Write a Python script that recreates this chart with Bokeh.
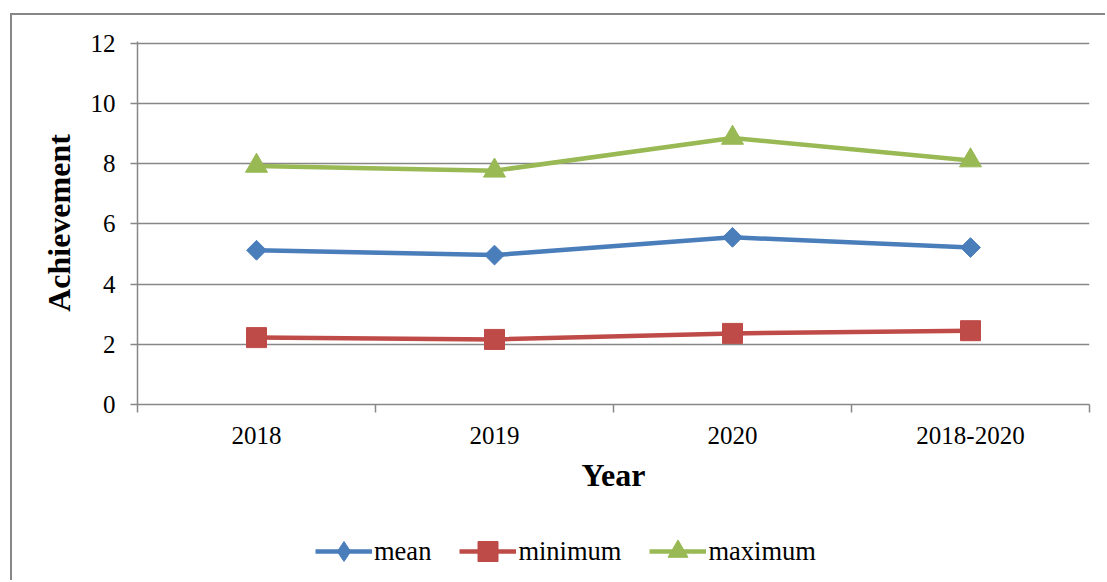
from bokeh.plotting import figure
from bokeh.models import (FixedTicker, Legend, LegendItem, Range1d, ColumnDataSource)
from bokeh.layouts import column
from bokeh.embed import file_html
from bokeh.resources import INLINE
import math

years = ["2018", "2019", "2020", "2018-2020"]
mean_vals = [5.12, 4.96, 5.55, 5.21]
min_vals = [2.22, 2.16, 2.36, 2.45]
max_vals = [7.92, 7.76, 8.85, 8.10]
y_ticks = [0, 2, 4, 6, 8, 10, 12]

FONT = "Liberation Serif"
GRAY = "#878787"
BORDER = "2px solid #878787"

n = len(years)
xpos = [i + 0.5 for i in range(n)]
bounds = list(range(n + 1))

p = figure(width=1095, height=509, output_backend="svg", toolbar_location=None,
           x_range=Range1d(0, n), y_range=Range1d(0, 12.05),
           min_border_left=125, min_border_right=18, min_border_top=26, min_border_bottom=120)
p.margin = (13, 0, 0, 10)
p.styles = {"border-left": BORDER, "border-top": BORDER}
p.outline_line_color = None
p.background_fill_color = "white"
p.border_fill_color = "white"

# y axis
yax = p.yaxis[0]
yax.ticker = FixedTicker(ticks=y_ticks, minor_ticks=[])
yax.axis_line_color = GRAY
yax.axis_line_width = 1.5
yax.major_tick_line_color = GRAY
yax.major_tick_line_width = 1.5
yax.major_tick_out = 7
yax.major_tick_in = 0
yax.minor_tick_line_color = None
yax.major_label_text_font = FONT
yax.major_label_text_font_size = "25px"
yax.major_label_text_color = "black"
yax.major_label_standoff = 15
yax.axis_label = "Achievement"
yax.axis_label_text_font = FONT
yax.axis_label_text_font_size = "32px"
yax.axis_label_text_font_style = "bold"
yax.axis_label_text_color = "black"
yax.axis_label_standoff = 11

# x axis: labels at category centres, ticks at category boundaries
xax = p.xaxis[0]
xax.ticker = FixedTicker(ticks=xpos, minor_ticks=bounds)
xax.major_label_overrides = {x: y for x, y in zip(xpos, years)}
xax.major_tick_line_color = None
xax.major_tick_out = 0
xax.major_tick_in = 0
xax.minor_tick_line_color = GRAY
xax.minor_tick_line_width = 1.5
xax.minor_tick_out = 8
xax.minor_tick_in = 0
xax.axis_line_color = GRAY
xax.axis_line_width = 1.5
xax.major_label_text_font = FONT
xax.major_label_text_font_size = "25px"
xax.major_label_text_color = "black"
xax.major_label_standoff = 14
xax.axis_label = "Year"
xax.axis_label_text_font = FONT
xax.axis_label_text_font_size = "32px"
xax.axis_label_text_font_style = "bold"
xax.axis_label_text_color = "black"
xax.axis_label_standoff = 10

p.xgrid.grid_line_color = None
p.ygrid.grid_line_color = GRAY
p.ygrid.grid_line_width = 1.5

series = [
    ("mean", mean_vals, "#4A7EBB", "square", 14, math.pi / 4, "diamond"),
    ("minimum", min_vals, "#BE4B48", "square", 20, 0, "square"),
    ("maximum", max_vals, "#98B954", "triangle", 22, 0, "triangle"),
]

# legend panel (its own figure, so the legend is not clipped by the chart frame)
lg = figure(width=1095, height=58, output_backend="svg", toolbar_location=None,
            x_range=Range1d(-10, -9), y_range=Range1d(-10, -9),
            x_axis_location=None, y_axis_location=None,
            min_border_left=0, min_border_right=0, min_border_top=0, min_border_bottom=0)
lg.margin = (0, 0, 0, 10)
lg.styles = {"border-left": BORDER}
lg.outline_line_color = None
lg.xgrid.grid_line_color = None
lg.ygrid.grid_line_color = None
lg.background_fill_color = "white"
lg.border_fill_color = "white"

items = []
for name, vals, color, marker, size, ang, lmarker in series:
    src = ColumnDataSource(dict(x=xpos, y=vals))
    p.line("x", "y", source=src, line_color=color, line_width=4.5)
    p.scatter("x", "y", source=src, marker=marker, size=size, angle=ang,
              fill_color=color, line_color=color, line_width=1)
    lsrc = ColumnDataSource(dict(x=xpos, y=vals))
    ln = lg.line("x", "y", source=lsrc, line_color=color, line_width=4.5)
    sc = lg.scatter("x", "y", source=lsrc, marker=lmarker, size=size,
                    fill_color=color, line_color=color, line_width=1)
    items.append(LegendItem(label=name, renderers=[ln, sc]))

legend = Legend(items=items, location=(178, 4), orientation="horizontal",
                border_line_color=None, background_fill_alpha=0,
                padding=0, margin=0, spacing=28, glyph_width=57, glyph_height=50,
                label_standoff=2, label_height=26,
                label_text_font=FONT, label_text_font_size="26.5px", label_text_color="black")
lg.add_layout(legend, "center")

layout = column(p, lg, spacing=0)
open("out.html", "w").write(file_html(layout, INLINE))
